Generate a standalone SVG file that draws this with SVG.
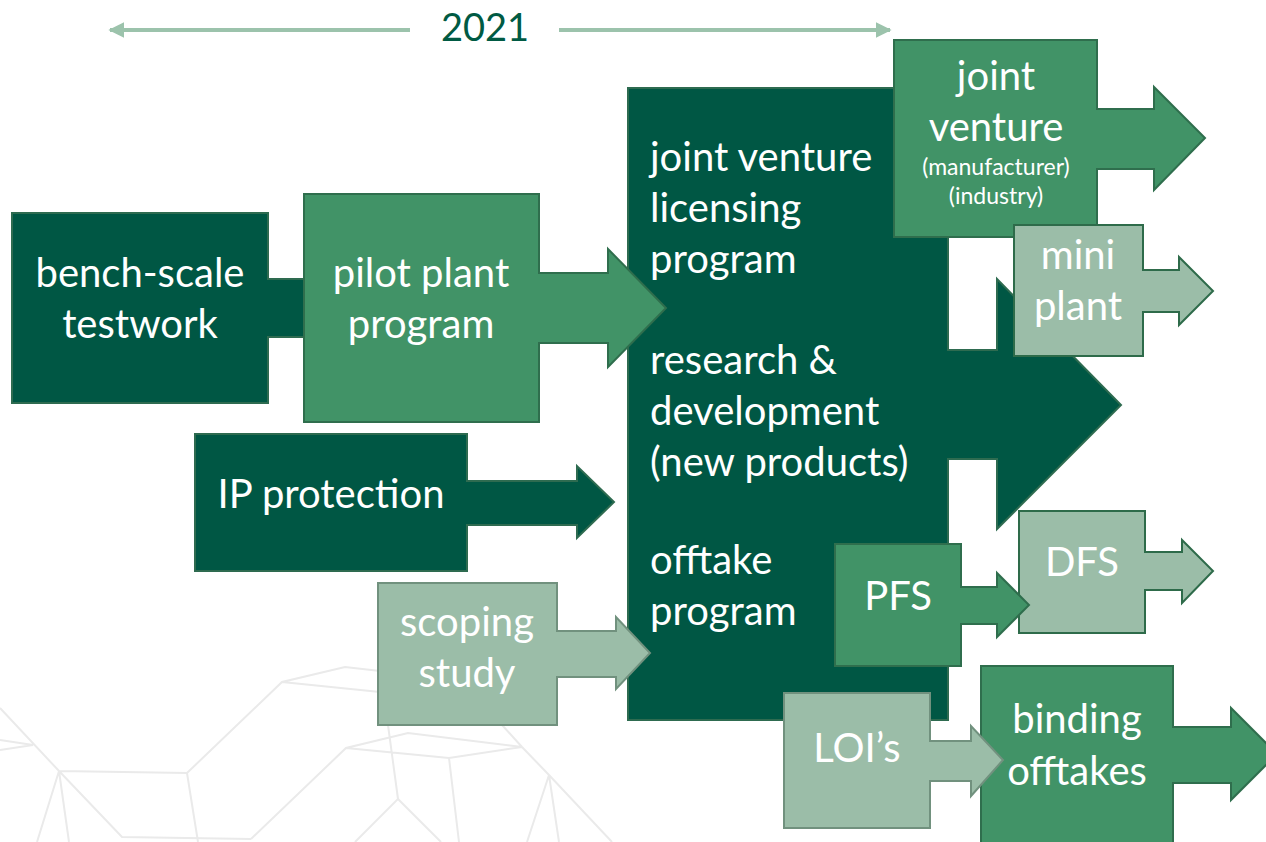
<svg xmlns="http://www.w3.org/2000/svg" width="1266" height="842" viewBox="0 0 1266 842">
<style>
.t{font-family:Lato,"Open Sans","Liberation Sans",sans-serif;font-size:40px;fill:#ffffff}
.c{text-anchor:middle}
.s{font-size:23px}
.dk{fill:#005744;stroke:#2E6B50;stroke-width:2}
.md{fill:#419367;stroke:#2F6E4D;stroke-width:2}
.lt{fill:#9BBDA8;stroke:#2E6B4A;stroke-width:2}
.lg{fill:#9BBDA8;stroke:#71917E;stroke-width:2}
.bg{fill:none;stroke:#EAEAEA;stroke-width:2}
</style>
<defs>
<marker id="ah" viewBox="0 0 10 10" refX="9" refY="5" markerWidth="4" markerHeight="4" orient="auto-start-reverse"><path d="M0,0 L10,5 L0,10 Z" fill="#9CC3AC"/></marker>
</defs>
<g id="background">
<path class="bg" d="M0,708 L59,771 L187,773 L282,682 L345,667 L380,671 M282,682 L380,692 M0,740 L33,745 L0,750 M59,771 L122,837 L251,839 M59,771 L37,842 M59,771 L69,842 M187,773 L198,842 M251,839 L346,748 L408,733 L522,747 M346,748 L449,758 L522,747 M449,758 L459,842 M388,725 L398,799 L355,842 M398,799 L441,842 M502,725 L522,747 L549,775 L612,842 M549,775 L527,842 M549,775 L559,842"/>
</g>
<g id="timeline">
<line x1="410" y1="30" x2="110" y2="30" stroke="#9CC3AC" stroke-width="4" marker-end="url(#ah)"/>
<line x1="559" y1="30" x2="890" y2="30" stroke="#9CC3AC" stroke-width="4" marker-end="url(#ah)"/>
<text x="485" y="41" class="t c" style="fill:#005A43;font-size:38px">2021</text>
</g>
<g id="core">
<path class="dk" d="M628,88 H948 V350 H997 V279 L1121,405 L997,529 V459 H948 V720 H628 Z"/>
<text class="t" x="650" y="171">joint venture</text>
<text class="t" x="650" y="222">licensing</text>
<text class="t" x="650" y="273">program</text>
<text class="t" x="650" y="374">research &amp;</text>
<text class="t" x="650" y="425">development</text>
<text class="t" x="650" y="476">(new products)</text>
<text class="t" x="650" y="574">offtake</text>
<text class="t" x="650" y="625">program</text>
</g>
<g id="bench">
<path class="dk" d="M12,213 H268 V279 H320 V337 H268 V403 H12 Z"/>
<text class="t c" x="140" y="287">bench-scale</text>
<text class="t c" x="140" y="338">testwork</text>
</g>
<g id="pilot">
<path class="md" d="M304,194 H539 V273 H608 V249 L666,308 L608,367 V343 H539 V422 H304 Z"/>
<text class="t c" x="421" y="287">pilot plant</text>
<text class="t c" x="421" y="338">program</text>
</g>
<g id="ip">
<path class="dk" d="M195,434 H467 V481 H577 V466 L614,502 L577,538 V525 H467 V571 H195 Z"/>
<text class="t c" x="331" y="508">IP protection</text>
</g>
<g id="scoping">
<path class="lg" d="M378,583 H557 V631 H616 V617 L650,653 L616,689 V677 H557 V725 H378 Z"/>
<text class="t c" x="467" y="636">scoping</text>
<text class="t c" x="467" y="687">study</text>
</g>
<g id="jv">
<path class="md" d="M894,40 H1097 V109 H1154 V87 L1205,138 L1154,190 V169 H1097 V237 H894 Z"/>
<text class="t c" x="996" y="90">joint</text>
<text class="t c" x="996" y="141">venture</text>
<text class="t c s" x="996" y="175">(manufacturer)</text>
<text class="t c s" x="996" y="204">(industry)</text>
</g>
<g id="mini">
<path class="lt" d="M1014,225 H1143 V270 H1179 V257 L1213,291 L1179,325 V312 H1143 V356 H1014 Z"/>
<text class="t c" x="1078" y="269">mini</text>
<text class="t c" x="1078" y="320">plant</text>
</g>
<g id="dfs">
<path class="lt" d="M1019,511 H1145 V552 H1182 V540 L1213,571 L1182,603 V590 H1145 V633 H1019 Z"/>
<text class="t c" x="1082" y="576">DFS</text>
</g>
<g id="pfs">
<path class="md" d="M835,544 H961 V587 H997 V573 L1029,605 L997,637 V624 H961 V666 H835 Z"/>
<text class="t c" x="898" y="610">PFS</text>
</g>
<g id="binding">
<path class="md" d="M981,666 H1173 V727 H1231 V708 L1277,754 L1231,800 V783 H1173 V846 H981 Z"/>
<text class="t c" x="1077" y="733">binding</text>
<text class="t c" x="1077" y="785">offtakes</text>
</g>
<g id="loi">
<path class="lg" d="M784,693 H930 V741 H971 V726 L1003,760 L971,796 V781 H930 V828 H784 Z"/>
<text class="t c" x="857" y="762">LOI’s</text>
</g>
</svg>
